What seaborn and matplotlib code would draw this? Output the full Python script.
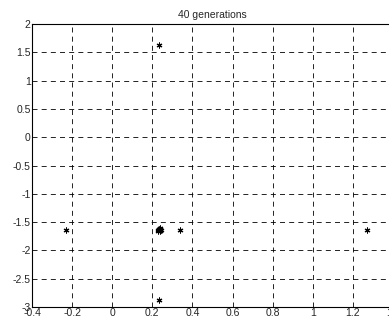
import matplotlib
matplotlib.use("Agg")
import matplotlib.pyplot as plt
import seaborn as sns
import pandas as pd

# Data
x_vals = [-0.23, 0.235, 0.228, 0.232, 0.236, 0.240, 0.245, 0.230, 0.238, 0.34, 1.27, 0.235]
y_vals = [-1.64, 1.63, -1.64, -1.62, -1.65, -1.63, -1.64, -1.66, -1.61, -1.64, -1.64, -2.88]
x_ticks = [-0.4, -0.2, 0, 0.2, 0.4, 0.6, 0.8, 1, 1.2, 1.4]
y_ticks = [-3, -2.5, -2, -1.5, -1, -0.5, 0, 0.5, 1, 1.5, 2]

df = pd.DataFrame({"x": x_vals, "y": y_vals})

sns.set_style("white")
plt.rcParams['font.family'] = ['Liberation Sans', 'DejaVu Sans']

fig = plt.figure(figsize=(3.89, 3.20), dpi=100)
ax = fig.add_axes([32 / 389, 13 / 320, 361 / 389, 283 / 320])

sns.scatterplot(data=df, x="x", y="y", marker=(6, 2, 0), s=13, color="black",
                linewidth=0.8, edgecolor="black", ax=ax, legend=False)

ax.set_xlim(-0.4, 1.4)
ax.set_ylim(-3, 2)
ax.set_xticks(x_ticks)
ax.set_yticks(y_ticks)
ax.set_xticklabels([f"{t:g}" for t in x_ticks])
ax.set_yticklabels([f"{t:g}" for t in y_ticks])
ax.tick_params(direction="in", length=3, labelsize=7.5, pad=1, color="black")
ax.grid(True, color="black", linestyle=(0, (6, 5)), linewidth=0.6)
for s in ax.spines.values():
    s.set_color("black")
    s.set_linewidth(0.8)
ax.set_xlabel("")
ax.set_ylabel("")
ax.set_title("40 generations", fontsize=7.5, pad=4)

fig.savefig("out.png", dpi=100)
